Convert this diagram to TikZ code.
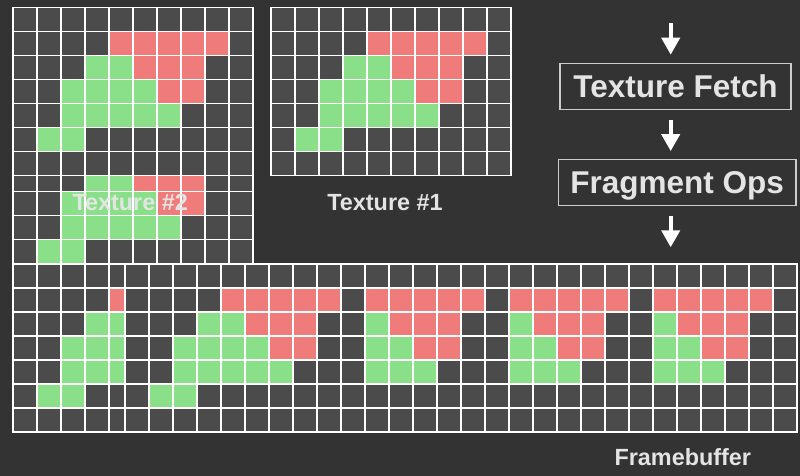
\documentclass[tikz,border=0pt]{standalone}
\usepackage{fontspec}
\setmainfont{Liberation Sans}
\usepackage{tikz}
\usetikzlibrary{arrows.meta}
\tikzset{
  gridline/.style ={draw=white, line width=1.8pt, line cap=rect},
  stagebox/.style ={draw=boxgray, line width=1.2pt, text=labelgray,
                    inner sep=0pt, minimum height=46pt,
                    text height=23pt, text depth=0pt,
                    font=\bfseries\fontsize{31.5}{36}\selectfont},
  caption/.style  ={text=labelgray, anchor=base, inner sep=0pt,
                    font=\bfseries\fontsize{23.4}{28}\selectfont},
  flowarr/.style  ={-{Triangle[width=18pt, length=17pt]}, draw=white,
                    fill=white, line width=4pt},
  texgrid/.pic={
    \fill[celldark] (0,0) rectangle (240,168);
    \foreach \c/\r in {4/1,5/1,6/1,7/1,8/1,5/2,6/2,7/2,6/3,7/3}
      \fill[cellred] (24*\c,24*\r) rectangle ++(24,24);
    \foreach \c/\r in {3/2,4/2,2/3,3/3,4/3,5/3,2/4,3/4,4/4,5/4,6/4,1/5,2/5}
      \fill[cellgreen] (24*\c,24*\r) rectangle ++(24,24);
    \foreach \i in {0,...,10}
      \draw[gridline] (24*\i,0) -- (24*\i,168);
    \foreach \j in {0,...,7}
      \draw[gridline] (0,24*\j) -- (240,24*\j);
  },
}
\definecolor{bggray}   {RGB}{51,51,51}
\definecolor{celldark} {RGB}{75,75,75}
\definecolor{cellred}  {RGB}{240,123,123}
\definecolor{cellgreen}{RGB}{137,224,137}
\definecolor{boxgray}  {RGB}{205,205,205}
\definecolor{labelgray}{RGB}{228,228,228}

\begin{document}
\begin{tikzpicture}[x=1pt, y=-1pt]
  \fill[bggray] (0,0) rectangle (800,476);
  \useasboundingbox (0,0) rectangle (800,476);

  % texture #2: two copies, the upper one on top
  \pic at (12.7,119.5) {texgrid};
  \pic at (12.7,7.5)   {texgrid};
  % texture #1
  \pic at (270.7,7.5)  {texgrid};
  % framebuffer tiles, back to front
  \foreach \dx in {544,400,256,0,112}
    \pic at (12.7+\dx,264) {texgrid};

  \node[caption] (tex2) at (130.2,210) {Texture \#2};
  \node[caption] (tex1) at (385,210)   {Texture \#1};
  \node[caption] (fb)   at (682.8,465.7) {Framebuffer};

  \node[stagebox, minimum width=231pt]   (fetch) at (675.5,86.3)  {Texture Fetch};
  \node[stagebox, minimum width=237.7pt] (frag)  at (677.2,182.3) {Fragment Ops};

  \coordinate (intop) at (670.7,23.3);
  \coordinate (outbot) at (670.7,247.3);

  \draw[flowarr, shorten >=8pt] (intop) -- (intop |- fetch.north);
  \draw[flowarr, shorten <=10pt, shorten >=7.6pt]
       (intop |- fetch.south) -- (intop |- frag.north);
  \draw[flowarr, shorten <=9.7pt] (intop |- frag.south) -- (outbot);
\end{tikzpicture}
\end{document}
